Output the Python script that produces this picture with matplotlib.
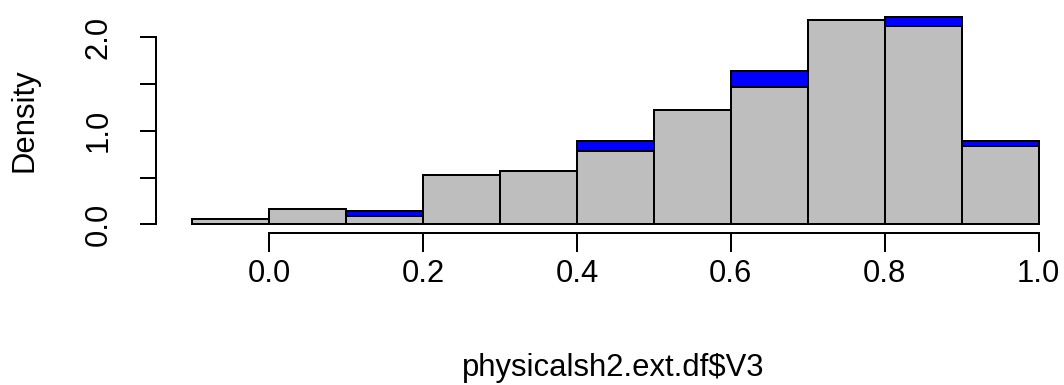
import matplotlib
matplotlib.use('Agg')
import matplotlib.pyplot as plt

# bin edges and densities of the two overlaid histograms
bin_left = [-0.1, 0.0, 0.1, 0.2, 0.3, 0.4, 0.5, 0.6, 0.7, 0.8, 0.9]
ext_density = [0.0, 0.12, 0.14, 0.45, 0.55, 0.892, 1.10, 1.638, 1.996, 2.218, 0.896]
base_density = [0.061, 0.169, 0.086, 0.527, 0.57, 0.785, 1.226, 1.47, 2.183, 2.12, 0.842]
x_ticks = [0.0, 0.2, 0.4, 0.6, 0.8, 1.0]
x_labels = ['0.0', '0.2', '0.4', '0.6', '0.8', '1.0']
y_ticks = [0.0, 0.5, 1.0, 1.5, 2.0]
y_labels = ['0.0', '', '1.0', '', '2.0']

plt.rcParams['font.family'] = ['Liberation Sans', 'DejaVu Sans']
fs = 22.3
lw = 1.44

W, H = 1064, 385
fig = plt.figure(figsize=(W / 100, H / 100), dpi=100)
# plot region in pixels: left 156, right 1071, top 9.4, bottom 232.7
ax = fig.add_axes([156 / W, (H - 232.7) / H, (1071 - 156) / W, (232.7 - 9.4) / H])
ax.set_xlim(-0.147, 1.042)
ax.set_ylim(-0.09, 2.30)

ax.bar(bin_left, ext_density, width=0.1, align='edge', color='#0000FF',
       edgecolor='black', linewidth=lw, clip_on=False)
ax.bar(bin_left, base_density, width=0.1, align='edge', color='#BEBEBE',
       edgecolor='black', linewidth=lw, clip_on=False)

for s in ['top', 'right']:
    ax.spines[s].set_visible(False)
ax.spines['left'].set_bounds(0, 2)
ax.spines['bottom'].set_bounds(0, 1)
ax.spines['left'].set_linewidth(lw)
ax.spines['bottom'].set_linewidth(lw)

ax.set_xticks(x_ticks)
ax.set_xticklabels(x_labels, fontsize=fs)
ax.set_yticks(y_ticks)
ax.set_yticklabels(y_labels, fontsize=fs, rotation=90, va='center')
ax.tick_params(axis='x', length=14, width=lw, pad=5)
ax.tick_params(axis='y', length=11.5, width=lw, pad=19)

fig.text(613 / W, 1 - 368 / H, 'physicalsh2.ext.df$V3', fontsize=fs,
         ha='center', va='center')
fig.text(25 / W, 1 - 120 / H, 'Density', fontsize=fs, rotation=90,
         ha='center', va='center')

fig.savefig('out.png', dpi=100)
